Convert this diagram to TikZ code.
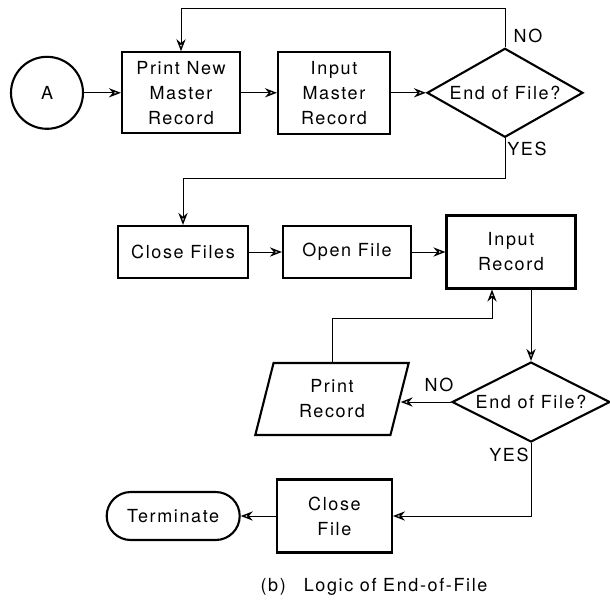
\documentclass[tikz,border=0pt]{standalone}
\usepackage{fontspec}
\setmainfont{TeX Gyre Heros}[LetterSpace=9]
\usetikzlibrary{shapes.geometric,arrows.meta}
\begin{document}
\begin{tikzpicture}[font=\fontsize{12.8}{17.8}\selectfont,
  box/.style={rectangle,draw,line width=1.5pt,align=center,inner sep=0pt},
  decision/.style={diamond,draw,line width=1.5pt,inner sep=0pt},
  io/.style={trapezium,trapezium left angle=75,trapezium right angle=105,
    trapezium stretches=true,draw,line width=1.5pt,align=center,inner sep=0pt},
  terminal/.style={rectangle,rounded corners=0.6cm,draw,line width=1.5pt,inner sep=0pt},
  flow/.style={-{Stealth[open,length=3mm,width=2.3mm,line width=1pt]},line width=0.6pt}]
  \useasboundingbox (0,0) rectangle (15.25,-14.975);
  % master file part
  \node[circle,draw,line width=1.5pt,minimum size=1.8cm,inner sep=0pt] (A) at (1.175,-2.32) {A};
  \node[box,minimum width=2.95cm,minimum height=2.025cm] (pnm) at (4.525,-2.32) {Print New\\Master\\Record};
  \node[box,minimum width=2.8cm,minimum height=2.05cm] (imr) at (8.35,-2.32) {Input\\Master\\Record};
  \node[decision,aspect=1.75,minimum width=3.9cm,minimum height=2.225cm] (eof) at (12.625,-2.32) {End of File?};
  \draw[flow] (A) -- (pnm);
  \draw[flow] (pnm) -- (imr);
  \draw[flow] (imr) -- (eof);
  \coordinate (top) at (0,-0.2);
  \draw[flow] (eof.north) -- (eof.north |- top) -- (pnm.north |- top) -- (pnm.north);
  \node at (13.2,-0.9) {NO};
  \node at (13.175,-3.725) {YES};
  % transaction file part
  \node[box,minimum width=3.25cm,minimum height=1.3cm] (cf) at (4.575,-6.3) {Close Files};
  \node[box,minimum width=3.2cm,minimum height=1.3cm] (of) at (8.675,-6.3) {Open File};
  \node[box,minimum width=3.225cm,minimum height=1.825cm] (ir) at (12.775,-6.3) {Input\\Record};
  \coordinate (yes1) at (0,-4.45);
  \draw[flow] (eof.south) -- (eof.south |- yes1) -- (cf.north |- yes1) -- (cf.north);
  \draw[flow] (cf) -- (of);
  \draw[flow] (of) -- (ir);
  \node[decision,aspect=1.975,minimum width=3.95cm,minimum height=2cm] (eof2) at (13.275,-10.05) {End of File?};
  \draw[flow] (ir.south -| eof2.north) -- (eof2.north);
  \node[io,minimum width=3.85cm,minimum height=1.8cm] (pr) at (8.3,-9.975) {Print\\Record};
  \draw[flow] (eof2.west) -- (eof2.west -| pr.east);
  \node at (10.975,-9.625) {NO};
  \coordinate (fb) at (12.3,-7.95);
  \draw[flow] (pr.north) |- (fb) -- (fb |- ir.south);
  \node at (12.725,-11.375) {YES};
  \node[box,minimum width=2.875cm,minimum height=1.825cm] (clf) at (8.36,-12.9) {Close\\File};
  \node[terminal,minimum width=3.325cm,minimum height=1.2cm] (term) at (4.33,-12.9) {Terminate};
  \draw[flow] (eof2.south) |- (clf.east);
  \draw[flow] (clf) -- (term);
  \node (cap) at (9.35,-14.675) {(b)\hspace{1em}Logic of End-of-File};
\end{tikzpicture}
\end{document}
